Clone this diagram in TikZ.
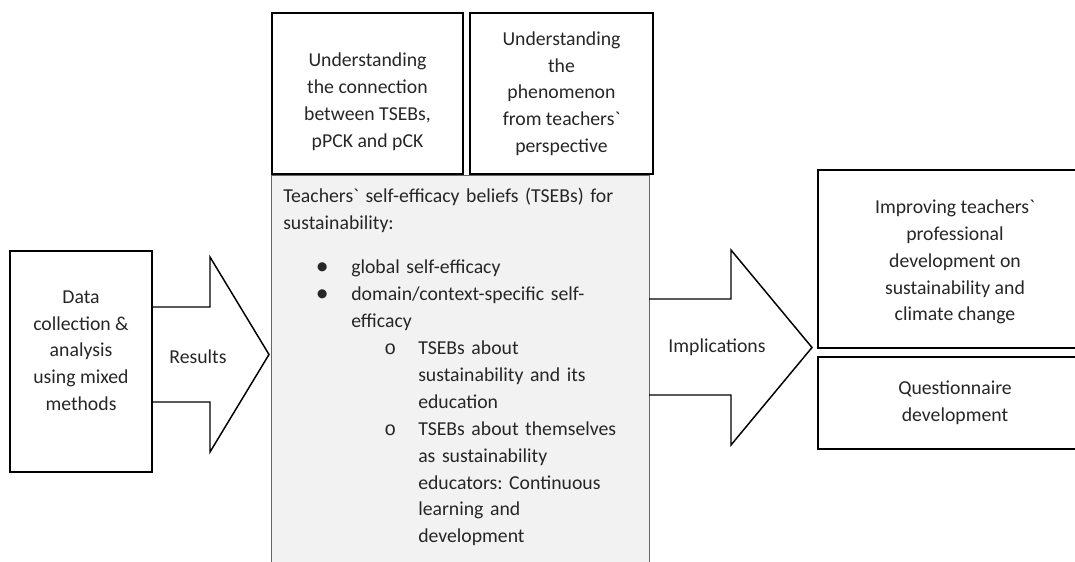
\documentclass[tikz,border=0pt]{standalone}
\usepackage{fontspec}
\setmainfont{Carlito}
\newfontfamily\subbulfont{Liberation Mono}
\usetikzlibrary{positioning}

\newcommand{\firstbul}{\makebox[51pt][l]{\hspace*{29.25pt}\makebox[0pt][c]{\raisebox{-1pt}{\scalebox{1.3}{\textbullet}}}}}
\newcommand{\secondbul}{\makebox[101.25pt][l]{\hspace*{80.25pt}\makebox[0pt][c]{\subbulfont o}}}
\newcommand{\onepad}{\hspace*{51pt}}
\newcommand{\twopad}{\hspace*{101.25pt}}
\newcommand{\stacktext}[1]{\begin{tabular}{@{}c@{}}#1\end{tabular}}

\begin{document}
\begin{tikzpicture}[
      x=0.75pt, y=-0.75pt,
      box/.style     ={rectangle, draw, line width=1.5pt, inner sep=0pt,
                       font=\fontsize{14.8pt}{20.1pt}\selectfont, text=black!85},
      listbox/.style ={rectangle, draw=black!60, line width=0.8pt, fill=black!5, inner sep=0pt},
      listtext/.style={align=left, text width=272pt, inner sep=0pt,
                       font=\fontsize{14.8pt}{20.2pt}\selectfont\frenchspacing, text=black!85},
      bigarrow/.style={draw, line width=1.1pt, line join=miter},
      lbl/.style     ={font=\fontsize{14.8pt}{20pt}\selectfont, text=black!85}
    ]
    \clip (0,0) rectangle (1075,561);

    % middle part
    \node [listbox, minimum width=283.5pt, minimum height=303.75pt, anchor=north west] (tsebbox) at (271,175) {};
    \node [box, minimum width=143.25pt, minimum height=120.75pt,
           above right=0pt and 0pt of tsebbox.north west] (conn)
          {\stacktext{\rule{0pt}{26pt}Understanding\\the connection\\between TSEBs,\\pPCK and pCK}};
    \node [box, minimum width=137.25pt, minimum height=120.75pt, right=3.75pt of conn] (phen)
          {\stacktext{Understanding\\the\\phenomenon\\from teachers\textasciigrave\\perspective}};
    \node [listtext, below right=9.5pt and 9pt of tsebbox.north west] (tseb)
          {Teachers\textasciigrave{} self-efficacy beliefs (TSEBs) for\\
           sustainability:\\[13pt]
           \firstbul global self-efficacy\\
           \firstbul domain/context-specific self-\\
           \onepad efficacy\\
           \secondbul TSEBs about\\
           \twopad sustainability and its\\
           \twopad education\\
           \secondbul TSEBs about themselves\\
           \twopad as sustainability\\
           \twopad educators: Continuous\\
           \twopad learning and\\
           \twopad development};

    % left part
    \node [box, minimum width=106.5pt, minimum height=165.75pt] (data) at (81,361.5)
          {\stacktext{Data\\collection \&\\analysis\\using mixed\\methods\\[15pt]}};
    \draw [bigarrow] (152,307) -- (210,307) -- (210,257) -- (269,354.5)
                     -- (210,452) -- (210,402) -- (152,402) ;
    \node [lbl] (results) at (198,357) {Results};

    % right part
    \node [box, minimum width=205.5pt, minimum height=133.5pt] (impr) at (955,259)
          {\stacktext{\rule{0pt}{18.5pt}Improving teachers\textasciigrave\\professional\\development on\\sustainability and\\climate change}};
    \node [box, minimum width=205.5pt, minimum height=69pt, below=5.25pt of impr] (quest)
          {\stacktext{Questionnaire\\development}};
    \draw [bigarrow] (649,299) -- (731,299) -- (731,250) -- (812,347.5)
                     -- (731,445) -- (731,395) -- (649,395) ;
    \node [lbl] (impl) at (717,347) {Implications};
  \end{tikzpicture}
\end{document}
